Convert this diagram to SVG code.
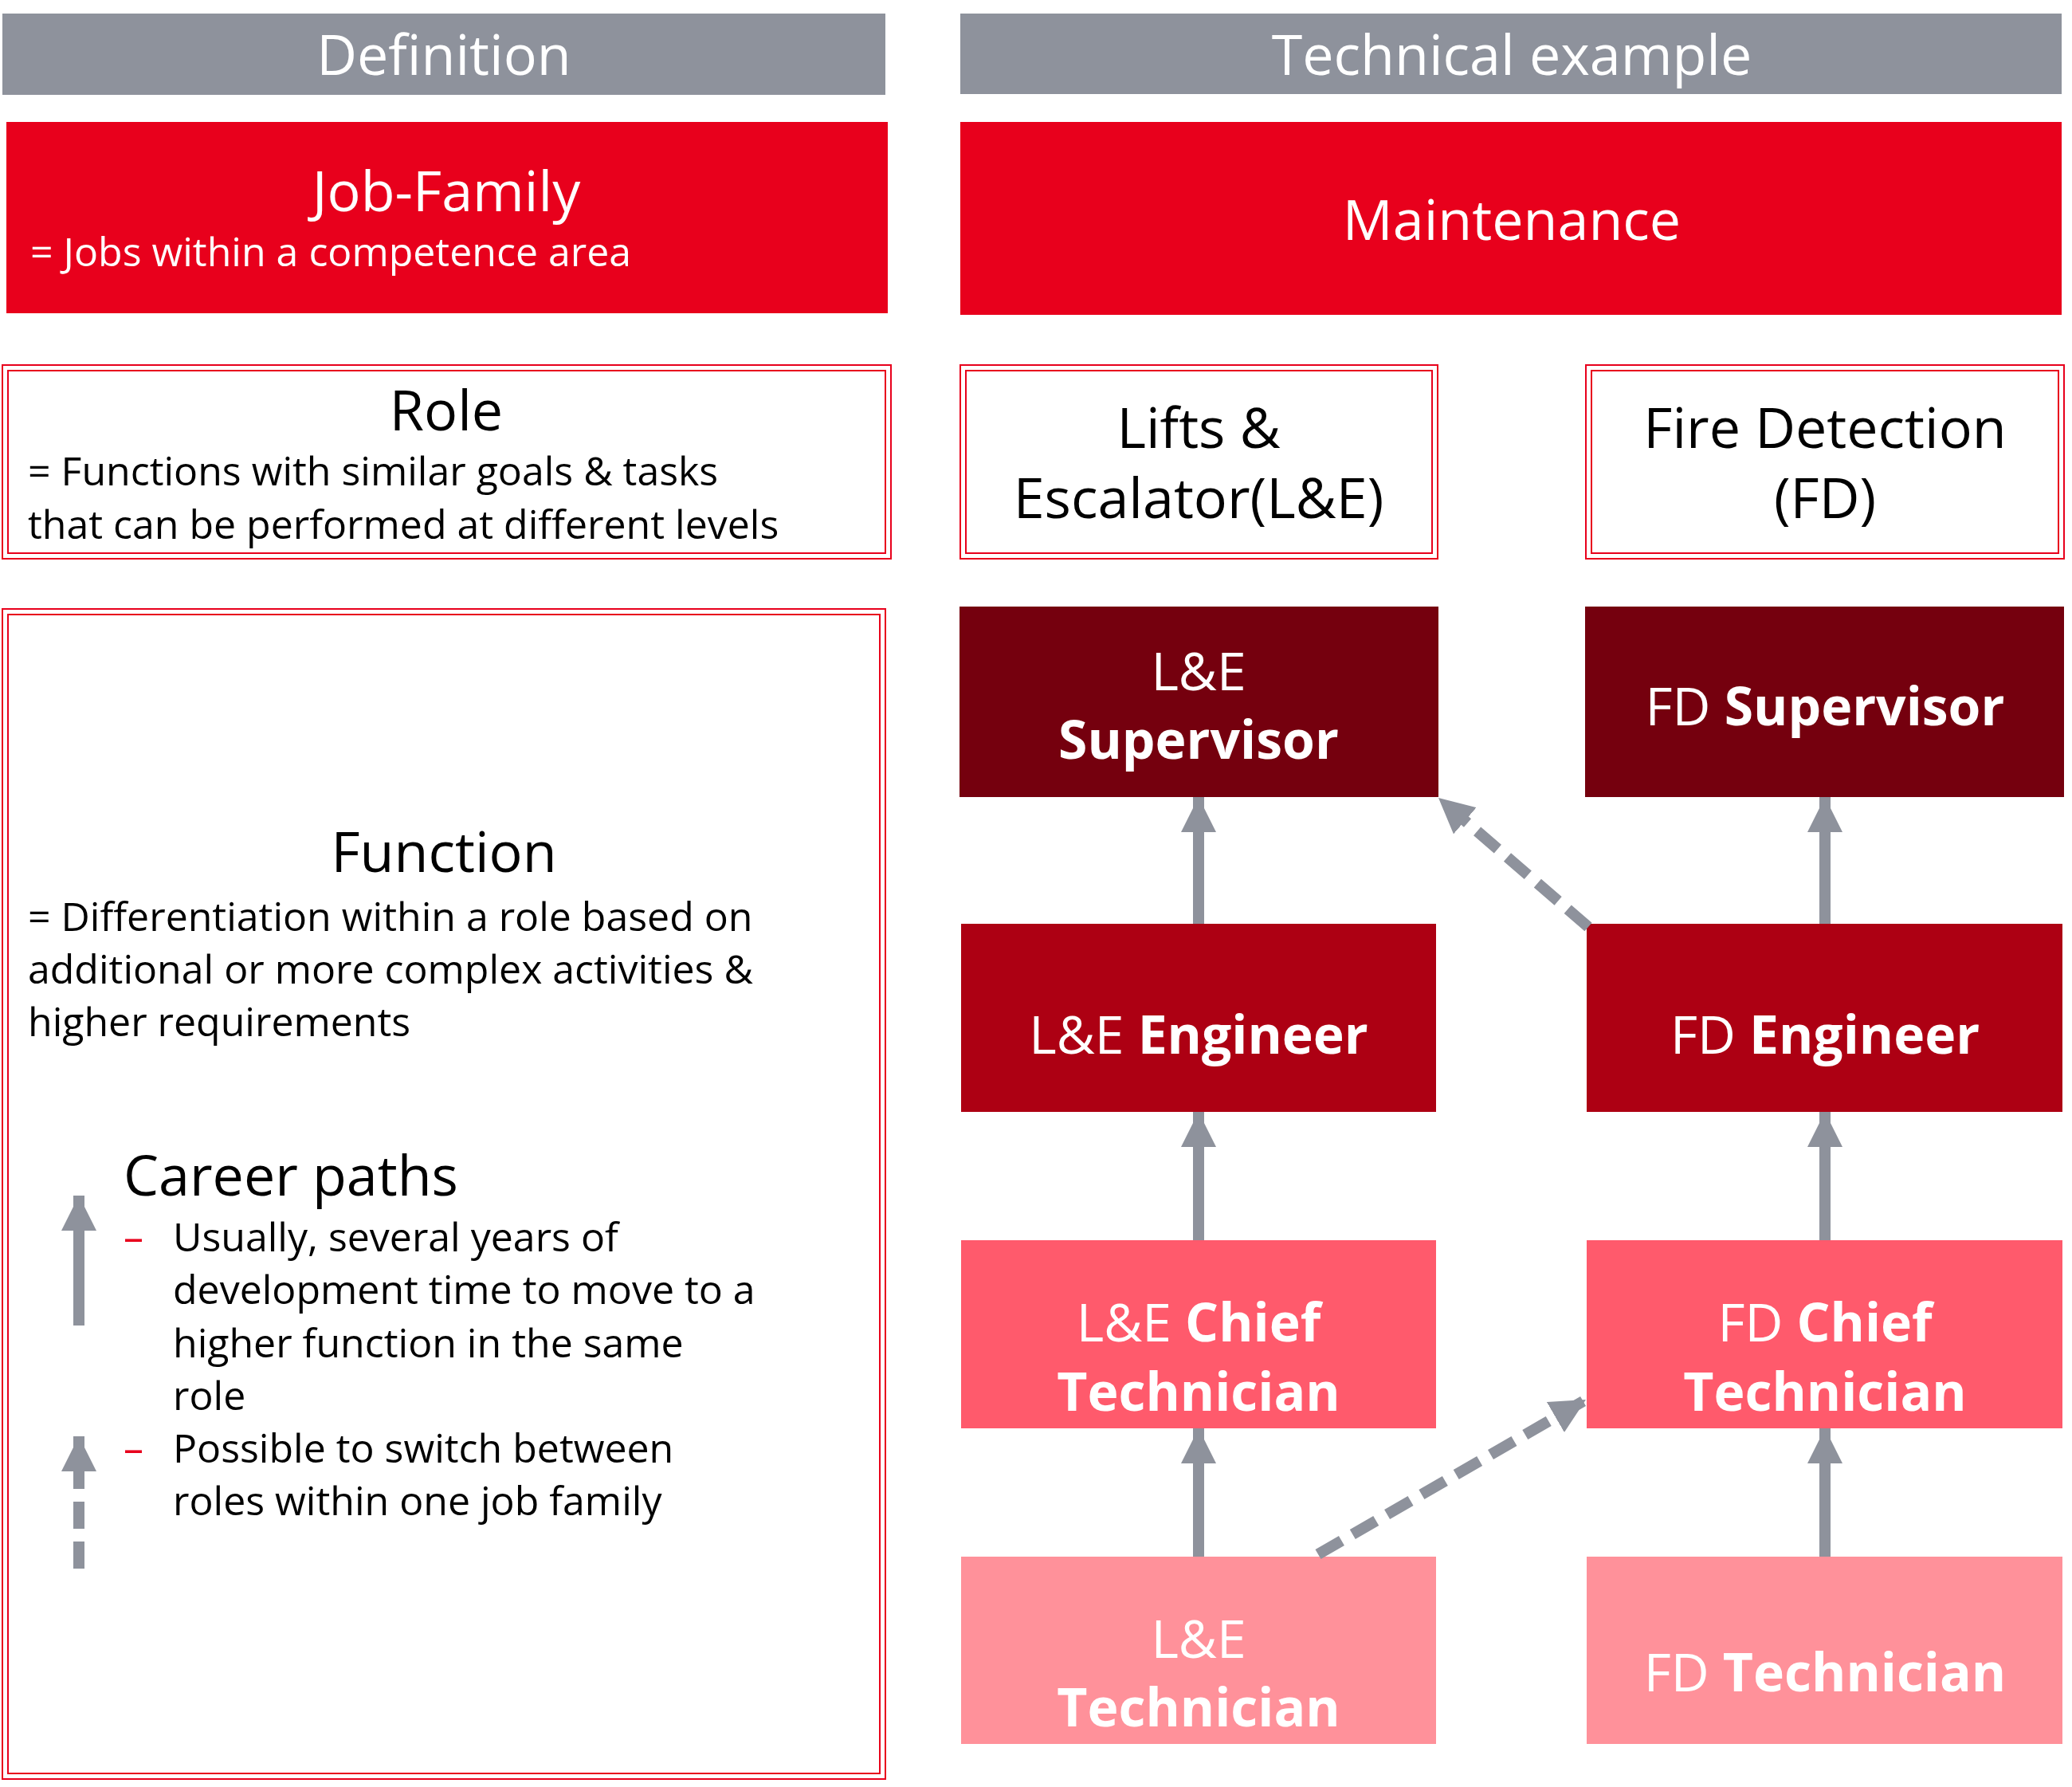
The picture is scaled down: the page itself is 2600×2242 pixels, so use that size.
<svg xmlns="http://www.w3.org/2000/svg" width="2600" height="2242" viewBox="0 0 2600 2242">
<style>
text{font-family:"Open Sans","Noto Sans",sans-serif}
.hdr{fill:#8E929C}
.hdrt{fill:#fff;font-size:70px;text-anchor:middle}
.red{fill:#E8001C}
.w{fill:#fff}
.k{fill:#000}
.c{text-anchor:middle}
.ob{fill:#fff;stroke:#E8001C;stroke-width:2}
.ib{fill:none;stroke:#E8001C;stroke-width:2}
.big{font-size:70px}
.med{font-size:50px}
.node{font-size:66px;fill:#fff;text-anchor:middle}
b,.b{font-weight:bold}
.con{stroke:#8E929C;stroke-width:14;fill:none}
.dash{stroke-dasharray:34 16}
</style>
<defs>
<marker id="ah" markerUnits="userSpaceOnUse" markerWidth="44" markerHeight="44" refX="44" refY="22" orient="auto">
<path d="M0,0 L44,22 L0,44 Z" fill="#8E929C"/>
</marker>
</defs>
<g id="hdr-def"><rect class="hdr" x="3" y="17" width="1108" height="102"/><text class="hdrt" x="557" y="94">Definition</text></g>
<g id="hdr-tech"><rect class="hdr" x="1205" y="17" width="1382" height="101"/><text class="hdrt" x="1897" y="94">Technical example</text></g>
<g id="jobfamily"><rect class="red" x="8" y="153" width="1106" height="240"/>
<text class="w c big" x="560" y="265">Job-Family</text>
<text class="w med" x="38" y="334">= Jobs within a competence area</text></g>
<g id="maintenance"><rect class="red" x="1205" y="153" width="1382" height="242"/>
<text class="w c big" x="1897" y="301">Maintenance</text></g>
<g id="role"><rect class="ob" x="3" y="458" width="1115" height="243"/><rect class="ib" x="10" y="465" width="1101" height="229"/>
<text class="k c big" x="560" y="540">Role</text>
<text class="k med" x="35" y="609">= Functions with similar goals &amp; tasks</text>
<text class="k med" x="35" y="676">that can be performed at different levels</text></g>
<g id="role-le"><rect class="ob" x="1205" y="458" width="599" height="243"/><rect class="ib" x="1212" y="465" width="585" height="229"/>
<text class="k c big" x="1504" y="562">Lifts &amp;</text>
<text class="k c big" x="1504" y="650">Escalator(L&amp;E)</text></g>
<g id="role-fd"><rect class="ob" x="1990" y="458" width="600" height="243"/><rect class="ib" x="1997" y="465" width="586" height="229"/>
<text class="k c big" x="2290" y="562">Fire Detection</text>
<text class="k c big" x="2290" y="650">(FD)</text></g>
<g id="function"><rect class="ob" x="3" y="764" width="1108" height="1468"/><rect class="ib" x="10" y="771" width="1094" height="1454"/>
<text class="k c big" x="557" y="1094">Function</text>
<text class="k med" x="35" y="1168">= Differentiation within a role based on</text>
<text class="k med" x="35" y="1234">additional or more complex activities &amp;</text>
<text class="k med" x="35" y="1300">higher requirements</text>
<text class="k big" x="155" y="1500">Career paths</text>
<text class="med" x="155" y="1570" fill="#E8001C">–</text>
<text class="k med" x="217" y="1570">Usually, several years of</text>
<text class="k med" x="217" y="1636">development time to move to a</text>
<text class="k med" x="217" y="1703">higher function in the same</text>
<text class="k med" x="217" y="1769">role</text>
<text class="med" x="155" y="1835" fill="#E8001C">–</text>
<text class="k med" x="217" y="1835">Possible to switch between</text>
<text class="k med" x="217" y="1901">roles within one job family</text>
<line class="con" x1="99" y1="1663" x2="99" y2="1500" marker-end="url(#ah)"/>
<line class="con dash" x1="99" y1="1968" x2="99" y2="1802" marker-end="url(#ah)" stroke-dasharray="48 18"/></g>
<g id="le-sup"><rect x="1204" y="761" width="601" height="239" fill="#75000E"/>
<text class="node" x="1504" y="866">L&amp;E</text><text class="node b" x="1504" y="952">Supervisor</text></g>
<g id="fd-sup"><rect x="1989" y="761" width="601" height="239" fill="#75000E"/>
<text class="node" x="2290" y="910">FD <tspan class="b">Supervisor</tspan></text></g>
<g id="le-eng"><rect x="1206" y="1159" width="596" height="236" fill="#AD0013"/>
<text class="node" x="1504" y="1322">L&amp;E <tspan class="b">Engineer</tspan></text></g>
<g id="fd-eng"><rect x="1991" y="1159" width="597" height="236" fill="#AD0013"/>
<text class="node" x="2290" y="1322">FD <tspan class="b">Engineer</tspan></text></g>
<g id="le-chief"><rect x="1206" y="1556" width="596" height="236" fill="#FF5A6C"/>
<text class="node" x="1504" y="1683">L&amp;E <tspan class="b">Chief</tspan></text><text class="node b" x="1504" y="1770">Technician</text></g>
<g id="fd-chief"><rect x="1991" y="1556" width="597" height="236" fill="#FF5A6C"/>
<text class="node" x="2290" y="1683">FD <tspan class="b">Chief</tspan></text><text class="node b" x="2290" y="1770">Technician</text></g>
<g id="le-tech"><rect x="1206" y="1953" width="596" height="235" fill="#FF919A"/>
<text class="node" x="1504" y="2080">L&amp;E</text><text class="node b" x="1504" y="2166">Technician</text></g>
<g id="fd-tech"><rect x="1991" y="1953" width="597" height="235" fill="#FF919A"/>
<text class="node" x="2290" y="2122">FD <tspan class="b">Technician</tspan></text></g>
<g id="connectors">
<line class="con" x1="1504" y1="1159" x2="1504" y2="1000" marker-end="url(#ah)"/>
<line class="con" x1="2290" y1="1159" x2="2290" y2="1000" marker-end="url(#ah)"/>
<line class="con" x1="1504" y1="1556" x2="1504" y2="1395" marker-end="url(#ah)"/>
<line class="con" x1="2290" y1="1556" x2="2290" y2="1395" marker-end="url(#ah)"/>
<line class="con" x1="1504" y1="1953" x2="1504" y2="1792" marker-end="url(#ah)"/>
<line class="con" x1="2290" y1="1953" x2="2290" y2="1792" marker-end="url(#ah)"/>
<line class="con dash" x1="1993" y1="1163" x2="1805" y2="1001" marker-end="url(#ah)"/>
<line class="con dash" x1="1654" y1="1950" x2="1990" y2="1756" marker-end="url(#ah)"/>
</g>
</svg>
